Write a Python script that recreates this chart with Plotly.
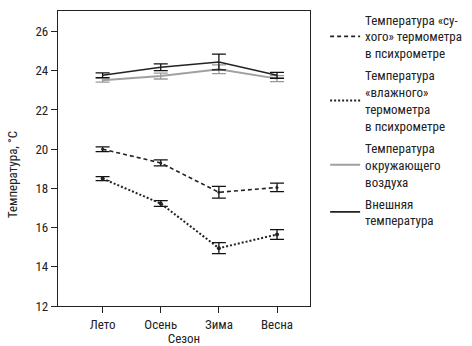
import plotly.graph_objects as go

seasons = ["Лето", "Осень", "Зима", "Весна"]
dry = [20.0, 19.3, 17.8, 18.05]
dry_err = [0.12, 0.15, 0.3, 0.22]
wet = [18.5, 17.23, 14.95, 15.65]
wet_err = [0.1, 0.15, 0.28, 0.25]
ambient = [23.52, 23.73, 24.08, 23.6]
ambient_err = [0.1, 0.15, 0.22, 0.15]
external = [23.77, 24.18, 24.45, 23.77]
external_err = [0.12, 0.17, 0.4, 0.15]
yticks = [12, 14, 16, 18, 20, 22, 24, 26]

FONT = "Liberation Sans Narrow, Roboto Condensed, Arial Narrow, Roboto, sans-serif"
x = list(range(len(seasons)))

def err(vals, color, w=1.3):
    return dict(type="data", array=vals, visible=True, color=color, thickness=w, width=7)

fig = go.Figure()
fig.add_trace(go.Scatter(
    x=x, y=dry, mode="lines", name="Температура «су-<br>хого» термометра<br>в психрометре",
    legendgroup="a",
    line=dict(color="#222", width=1.6, dash="4px,3px"), error_y=err(dry_err, "#111")))
fig.add_trace(go.Scatter(
    x=x, y=wet, mode="lines", name="Температура<br>«влажного»<br>термометра<br>в психрометре",
    legendgroup="b",
    line=dict(color="#222", width=2, dash="2px,2px"), error_y=err(wet_err, "#111")))
fig.add_trace(go.Scatter(
    x=x, y=wet, mode="markers", showlegend=False, legendgroup="b",
    marker=dict(size=4, color="#222")))
fig.add_trace(go.Scatter(
    x=x, y=dry, mode="markers", showlegend=False, legendgroup="a",
    marker=dict(size=3, color="#222")))
fig.add_trace(go.Scatter(
    x=x, y=ambient, mode="lines", name="Температура<br>окружающего<br>воздуха",
    legendgroup="c",
    line=dict(color="#a0a0a0", width=2), error_y=err(ambient_err, "#999")))
fig.add_trace(go.Scatter(
    x=x, y=external, mode="lines", name="Внешняя<br>температура",
    legendgroup="d",
    line=dict(color="#222", width=1.6), error_y=err(external_err, "#111")))

fig.update_layout(
    width=472, height=346,
    margin=dict(l=58, r=154, t=5, b=40),
    paper_bgcolor="white", plot_bgcolor="white",
    font=dict(family=FONT, size=13, color="#222"),
    showlegend=True,
    legend=dict(x=1.06, y=1.022, xanchor="left", yanchor="top",
                font=dict(family=FONT, size=13, color="#222"),
                itemwidth=30, tracegroupgap=2, maxheight=400,
                bgcolor="rgba(0,0,0,0)"),
    xaxis=dict(range=[-0.767, 3.567], tickvals=x, ticktext=seasons,
               showgrid=False, zeroline=False, ticks="outside", ticklen=6,
               tickcolor="#222", showline=True, linecolor="#222", linewidth=1.2, mirror=True,
               title=dict(text="Сезон", standoff=0, font=dict(size=13))),
    yaxis=dict(range=[12, 27.05], tickvals=yticks,
               showgrid=False, zeroline=False, ticks="outside", ticklen=6,
               tickcolor="#222", showline=True, linecolor="#222", linewidth=1.2, mirror=True),
    annotations=[dict(text="Температура, °C", textangle=-90, xref="paper", yref="paper",
                      x=-58 / 260 + 11 / 260, xanchor="center", y=0.445, yanchor="middle",
                      showarrow=False, font=dict(size=13))],
)
fig.write_html("out.html")
